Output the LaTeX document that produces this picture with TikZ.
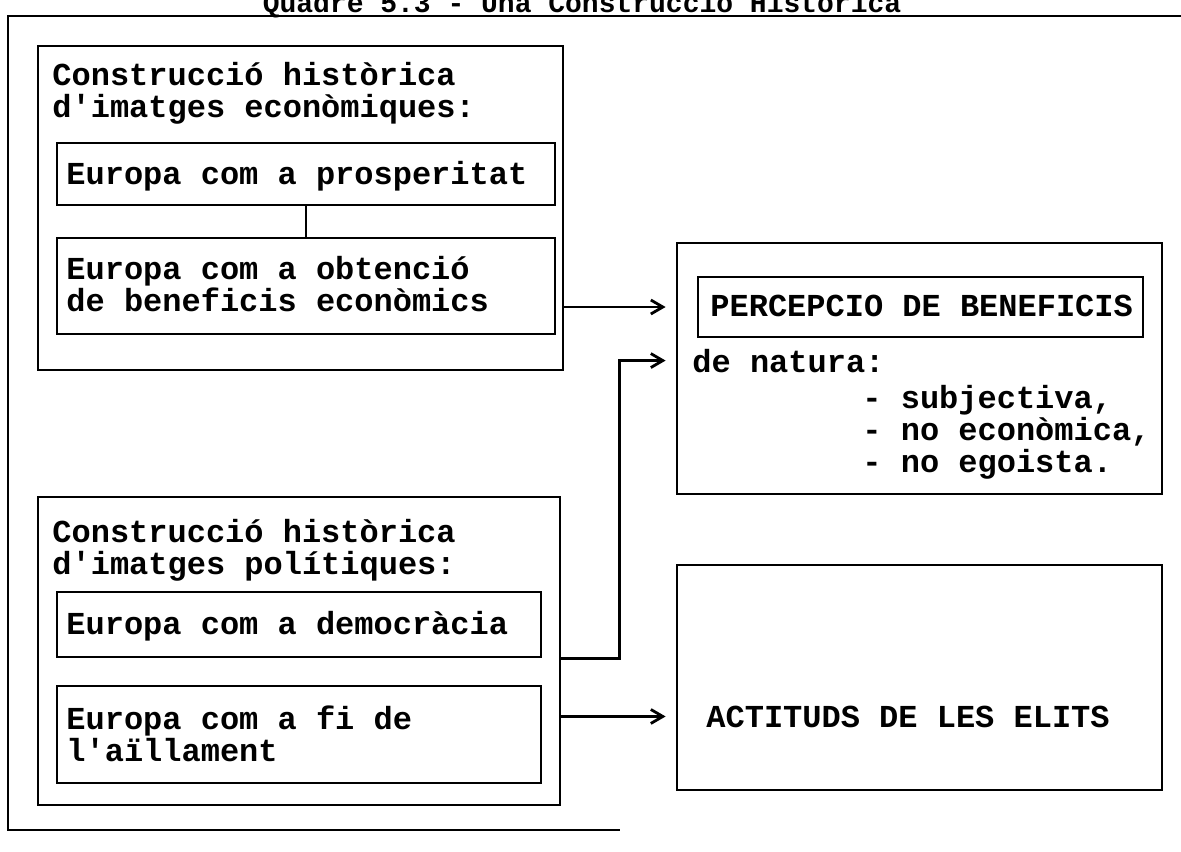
\documentclass[tikz,border=0pt]{standalone}
\usepackage{fontspec}
\setmonofont{Liberation Mono}
\usepackage{tikz}
\usetikzlibrary{arrows.meta,positioning,fit,calc}

\begin{document}
\begin{tikzpicture}[
    x=0.5pt, y=-0.5pt,
    frame/.style={draw, line width=1.4pt, inner sep=0pt},
    txt/.style={font=\ttfamily\bfseries\fontsize{16}{16}\selectfont, inner sep=0pt, align=left, anchor=base west},
    titletxt/.style={font=\ttfamily\bfseries\fontsize{14}{16}\selectfont, inner sep=0pt, anchor=base},
    arr/.style={-{Straight Barb[length=6pt, width=7pt]}, line width=1.4pt, shorten >=5pt}
  ]
    \useasboundingbox (0,0) rectangle (1181,851);

    %% ---- Title and outer frame ----
    \node[titletxt] (title) at (582,12) {Quadre 5.3 - Una Construcció Històrica};
    \draw[line width=1.4pt] (1181,16) -- (8,16) -- (8,830) -- (620,830);

    %% ---- Economic images (base anchor = last line) ----
    \node[frame, fit={(38,46) (563,370)}] (econ) {};
    \node[txt] (econt) at (52,117) {Construcció històrica\\d'imatges econòmiques:};
    \node[frame, fit={(57,143) (555,205)}] (prosp) {};
    \node[txt] (prospt) at (66,184) {Europa com a prosperitat};
    \node[frame, fit={(57,238) (555,334)}] (obt) {};
    \node[txt] (obtt) at (66,311) {Europa com a obtenció\\de beneficis econòmics};
    \draw[line width=1.4pt] (prosp.south) -- (obt.north);

    %% ---- Political images ----
    \node[frame, fit={(38,497) (560,805)}] (pol) {};
    \node[txt] (polt) at (52,574) {Construcció històrica\\d'imatges polítiques:};
    \node[frame, fit={(57,592) (541,657)}] (demo) {};
    \node[txt] (demot) at (66,634) {Europa com a democràcia};
    \node[frame, fit={(57,686) (541,783)}] (aill) {};
    \node[txt] (aillt) at (66,761) {Europa com a fi de\\l'aïllament};

    %% ---- Right column ----
    \node[frame, fit={(677,243) (1162,494)}] (benef) {};
    \node[frame, fit={(698,277) (1143,337)}] (percep) {};
    \node[txt] (percept) at (710,316) {PERCEPCIO DE BENEFICIS};
    \node[txt] (natura) at (692,372) {de natura:};
    \node[txt] (llista) at (862,472) {- subjectiva,\\- no econòmica,\\- no egoista.};
    \node[frame, fit={(677,565) (1162,790)}] (elits) {};
    \node[txt] (elitst) at (706,727) {ACTITUDS DE LES ELITS};

    %% ---- Arrows ----
    \draw[arr] (econ.east |- percep.west) -- (benef.west |- percep.west);
    \draw[arr] (pol.east |- demo.south) -- ++(58,0) |- (benef.west |- natura.west);
    \draw[arr] (pol.east |- elitst.west) -- (elits.west |- elitst.west);
\end{tikzpicture}
\end{document}
